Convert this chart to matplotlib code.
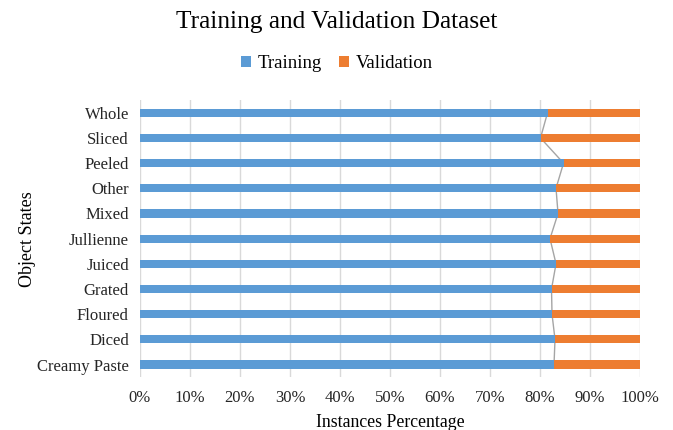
import numpy as np
import matplotlib.pyplot as plt
from matplotlib.ticker import FuncFormatter

plt.rcParams['font.family'] = ['Liberation Serif', 'DejaVu Serif']

# categories bottom to top
states = [ 'Creamy Paste', 'Diced', 'Floured', 'Grated', 'Juiced', 'Jullienne',
           'Mixed', 'Other', 'Peeled', 'Sliced', 'Whole' ]
training = [ 82.8, 83.0, 82.4, 82.3, 83.2, 82.0, 83.6, 83.2, 84.7, 80.1, 81.5 ]
validation = [ 100 - t for t in training ]

BLUE = '#5B9BD5'
ORANGE = '#ED7D31'

fig = plt.figure( figsize=( 6.73, 4.30 ), dpi=100 )
ax = fig.add_axes( [ 0.208, 0.123, 0.743, 0.644 ] )

y = np.arange( len( states ) )
ax.barh( y, training, height=0.32, color=BLUE, label='Training', zorder=3 )
ax.barh( y, validation, left=training, height=0.32, color=ORANGE, label='Validation', zorder=3 )

# series lines between the two segments
ax.plot( training, y, color='#A5A5A5', lw=1.0, zorder=2 )

ax.set_xlim( 0, 100 )
ax.set_ylim( -0.5, len( states ) - 0.5 )
ax.set_xticks( np.arange( 0, 101, 10 ) )
ax.xaxis.set_major_formatter( FuncFormatter( lambda v, p: f'{int(v)}%' ) )
ax.set_yticks( y )
ax.set_yticklabels( states )
ax.tick_params( axis='both', length=0, labelsize=12, colors='#262626' )
ax.tick_params( axis='x', pad=9 )
ax.tick_params( axis='y', pad=8 )
ax.grid( axis='x', color='#D9D9D9', lw=1.0, zorder=0 )
for s in ax.spines.values():
    s.set_visible( False )

ax.set_xlabel( 'Instances Percentage', fontsize=12.8, labelpad=6 )
ax.set_ylabel( 'Object States', fontsize=13, labelpad=1 )

fig.suptitle( 'Training and Validation Dataset', fontsize=18.3, y=0.975 )
fig.legend( loc='center', bbox_to_anchor=( 0.5, 0.852 ), ncol=2, frameon=False,
            fontsize=13.5, handlelength=0.55, handleheight=0.55, handletextpad=0.35,
            columnspacing=0.9 )

fig.savefig( 'out.png', dpi=100 )
